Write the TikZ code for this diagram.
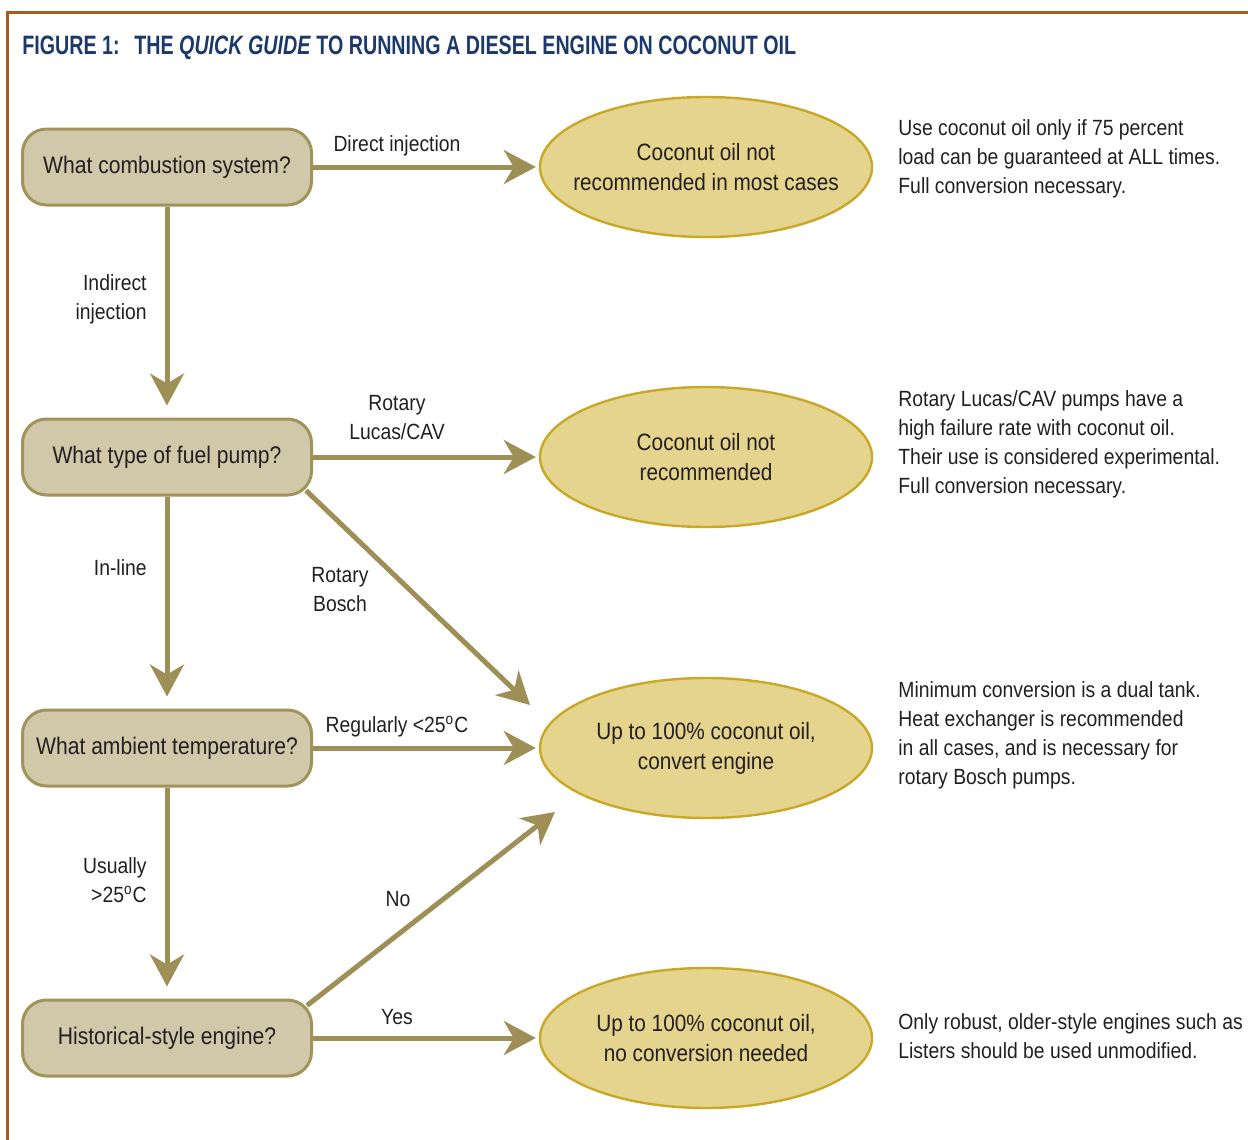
\documentclass[tikz,border=0pt]{standalone}
\usepackage{fontspec}
\setmainfont[FakeStretch=0.88]{Liberation Sans}
\newfontfamily\titlefont[FakeStretch=0.74]{Liberation Sans}
\usepackage{tikz}
\usetikzlibrary{arrows.meta, shapes.geometric, positioning, calc}

\definecolor{frame}{RGB}{166,92,32}
\definecolor{titleblue}{RGB}{27,58,107}
\definecolor{qfill}{RGB}{209,200,170}
\definecolor{qline}{RGB}{160,148,90}
\definecolor{afill}{RGB}{228,212,142}
\definecolor{aline}{RGB}{201,168,40}
\definecolor{arrowc}{RGB}{158,143,86}
\definecolor{ink}{RGB}{35,31,32}

\begin{document}
\begin{tikzpicture}[x=0.5pt, y=-0.5pt,
    every node/.style={text=ink, font=\fontsize{11}{14.5}\selectfont},
    question/.style={draw=qline, fill=qfill, line width=1.5pt, rounded corners=12pt,
        minimum width=144.5pt, minimum height=38pt, font=\fontsize{12}{15}\selectfont},
    answer/.style={ellipse, draw=aline, fill=afill, line width=1.2pt,
        minimum width=166pt, minimum height=70pt, align=center,
        inner xsep=-22pt, inner ysep=-4pt,
        font=\fontsize{11.8}{15}\selectfont},
    note/.style={anchor=west, align=left, inner sep=0pt},
    flow/.style={draw=arrowc, line width=2.5pt,
        -{Stealth[length=16pt, width=17pt, inset=5pt]}},
    lbl/.style={inner sep=0pt, align=center}]

    \useasboundingbox (0,0) rectangle (1248,1140);

    % Draw the frame
    \draw[frame, line width=1.5pt] (7,1140) -- (7,12) -- (1248,12);

    % Title
    \node[anchor=west, inner sep=0pt, text=titleblue] (title) at (22,48)
        {\titlefont\fontsize{13.3}{15}\selectfont\bfseries FIGURE 1:\hspace{0.55em}THE \textit{QUICK GUIDE} TO RUNNING A DIESEL ENGINE ON COCONUT OIL};

    % Questions
    \node[question] (q1) at (167,167) {What combustion system?};
    \node[question] (q2) at (167,457) {What type of fuel pump?};
    \node[question] (q3) at (167,748) {What ambient temperature?};
    \node[question] (q4) at (167,1038) {Historical-style engine?};

    % Answers
    \node[answer] (e1) at (706,167) {Coconut oil not\\recommended in most cases};
    \node[answer] (e2) at (706,457) {Coconut oil not\\recommended};
    \node[answer] (e3) at (706,748) {Up to 100\% coconut oil,\\convert engine};
    \node[answer] (e4) at (706,1038) {Up to 100\% coconut oil,\\no conversion needed};

    % Free ends of the diagonals
    \coordinate (t3) at (530,705);
    \coordinate (n3) at (555,812);

    % Draw the arrows
    \draw[flow] (q1.east) -- ([xshift=-1.5pt]e1.west);
    \draw[flow] (q2.east) -- ([xshift=-1.5pt]e2.west);
    \draw[flow] (q3.east) -- ([xshift=-1.5pt]e3.west);
    \draw[flow] (q4.east) -- ([xshift=-1.5pt]e4.west);
    \draw[flow, shorten >=6pt] (q1.south) -- (q2.north);
    \draw[flow, shorten >=6pt] (q2.south) -- (q3.north);
    \draw[flow, shorten >=6pt] (q3.south) -- (q4.north);
    \draw[flow] ($(q2.south east)+(-7,-6)$) -- (t3);
    \draw[flow] ($(q4.north east)+(-6,7)$) -- (n3);

    % Label arrows
    \node[lbl] (l1) at (397,146) {Direct injection};
    \node[lbl, anchor=east, align=right] (l2) at (147,299) {Indirect\\injection};
    \node[lbl] (l3) at (397,418) {Rotary\\Lucas/CAV};
    \node[lbl, anchor=east] (l4) at (147,568) {In-line};
    \node[lbl] (l5) at (340,590) {Rotary\\Bosch};
    \node[lbl] (l6) at (397,727) {Regularly <25\textsuperscript{o}C};
    \node[lbl, anchor=east, align=right] (l7) at (147,880) {Usually\\>25\textsuperscript{o}C};
    \node[lbl] (l8) at (398,899) {No};
    \node[lbl] (l9) at (397,1017) {Yes};

    % Notes
    \node[note] (n1) at (898,159) {Use coconut oil only if 75 percent\\load can be guaranteed at ALL times.\\Full conversion necessary.};
    \node[note] (n2) at (898,444) {Rotary Lucas/CAV pumps have a\\high failure rate with coconut oil.\\Their use is considered experimental.\\Full conversion necessary.};
    \node[note] (n4) at (898,735) {Minimum conversion is a dual tank.\\Heat exchanger is recommended\\in all cases, and is necessary for\\rotary Bosch pumps.};
    \node[note] (n5) at (898,1036) {Only robust, older-style engines such as\\Listers should be used unmodified.};
\end{tikzpicture}
\end{document}
